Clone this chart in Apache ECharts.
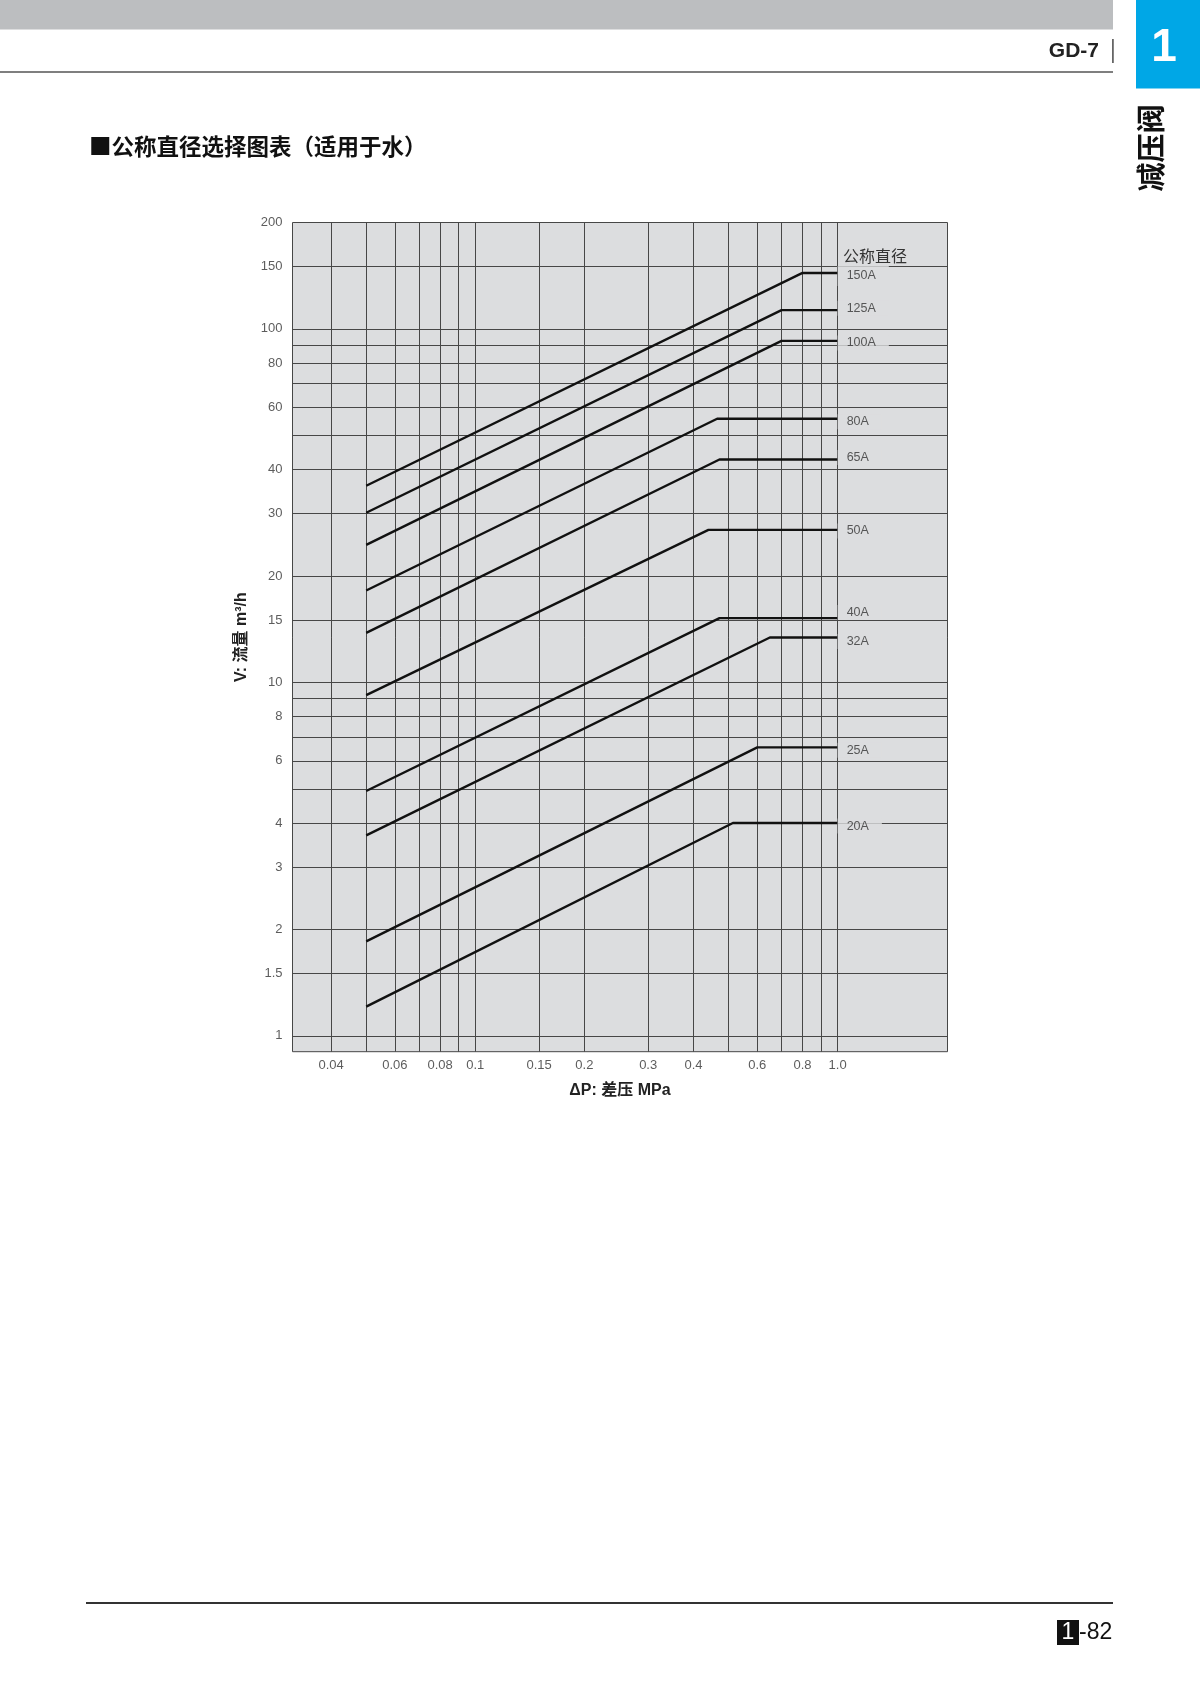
<!DOCTYPE html>
<html><head><meta charset="utf-8">
<script src="https://cdn.jsdelivr.net/npm/echarts@6/dist/echarts.min.js"></script>
<style>html,body{margin:0;padding:0;background:#fff}#c{width:1200px;height:1699px}</style>
</head><body><div id="c"></div>
<script>
// ---- data ----
const seriesNames = ['150A','125A','100A','80A','65A','50A','40A','32A','25A','20A'];
const startDp = 0.05;
const endDp = 1.0;
const startFlow = [36, 30.2, 24.5, 18.2, 13.8, 9.2, 4.93, 3.69, 1.85, 1.21];
const kneeDp = [0.8, 0.7, 0.7, 0.465, 0.472, 0.44, 0.472, 0.65, 0.6, 0.514];
const kneeFlow = [144, 113, 92.5, 55.7, 42.7, 27, 15.2, 13.4, 6.55, 4.0];
const xGridValues = [0.04,0.05,0.06,0.07,0.08,0.09,0.1,0.15,0.2,0.3,0.4,0.5,0.6,0.7,0.8,0.9,1.0];
const xTickValues = [0.04,0.06,0.08,0.1,0.15,0.2,0.3,0.4,0.6,0.8,1.0];
const xTickLabels = ['0.04','0.06','0.08','0.1','0.15','0.2','0.3','0.4','0.6','0.8','1.0'];
const yGridValues = [1,1.5,2,3,4,5,6,7,8,9,10,15,20,30,40,50,60,70,80,90,100,150];
const yTickValues = [1,1.5,2,3,4,6,8,10,15,20,30,40,60,80,100,150,200];
const yTickLabels = ['1','1.5','2','3','4','6','8','10','15','20','30','40','60','80','100','150','200'];
const xMin = 0.0313, xMax = 2.01, yMin = 0.902, yMax = 200;

// ---- styles ----
const LAT = "'Liberation Sans', Arial, 'Noto Sans CJK SC', sans-serif";
const plotBg = '#dcdddf';
const labelDy = [3, -2, 2, 3, -2, 1, -5.5, 4, 3, 3];
const labelPad = [[8,13,1,9],[3,13,1,9],[3,13,1,9],[3,13,1,9],[3,13,1,9],[3,13,1,9],[3,13,1,9],[3,13,1,9],[3,13,1,9],[3,13,1,9]];

const chart = echarts.init(document.getElementById('c'), null, {renderer: 'canvas'});

const gridLineData = xGridValues.map(v => ({xAxis: v})).concat(yGridValues.map(v => ({yAxis: v})));

const series = [];
// x tick labels + gridlines holder
series.push({
  type: 'scatter', z: 1, silent: true, clip: false, symbolSize: 0,
  data: xTickValues.map(v => [v, yMin]),
  label: {show: true, position: 'bottom', distance: 7, fontFamily: LAT, fontSize: 13, color: '#333',
    formatter: p => xTickLabels[p.dataIndex]},
  markLine: {
    silent: true, z: 1, symbol: ['none', 'none'], animation: false,
    label: {show: false},
    lineStyle: {color: '#474747', width: 1, type: 'solid'},
    emphasis: {disabled: true},
    data: gridLineData
  }
});
// y tick labels
series.push({
  type: 'scatter', z: 1, silent: true, clip: false, symbolSize: 0,
  data: yTickValues.map(v => [xMin, v]),
  label: {show: true, position: 'left', distance: 10, fontFamily: LAT, fontSize: 13, color: '#333',
    formatter: p => yTickLabels[p.dataIndex]}
});
// curves
seriesNames.forEach((name, i) => {
  series.push({
    type: 'line', name: name, z: 3, silent: true, symbol: 'none', clip: false,
    data: [[startDp, startFlow[i]], [kneeDp[i], kneeFlow[i]], [endDp, kneeFlow[i]]],
    lineStyle: {color: '#111', width: 2.4}
  });
});
// curve name labels
series.push({
  type: 'scatter', z: 4, silent: true, clip: false, symbolSize: 0,
  data: seriesNames.map((n, i) => ({value: [endDp, kneeFlow[i]],
    label: {offset: [0, labelDy[i]], padding: labelPad[i]}})),
  label: {show: true, position: 'right', distance: 0, fontFamily: LAT, fontSize: 12.5, color: '#333',
    backgroundColor: plotBg, lineHeight: 11,
    formatter: p => seriesNames[p.dataIndex]}
});

const option = {
  animation: false,
  backgroundColor: '#fff',
  grid: {left: 292.5, right: 252.5, top: 222.5, bottom: 647.3, show: true,
    backgroundColor: plotBg, borderColor: '#474747', borderWidth: 1, containLabel: false, outerBoundsMode: 'none'},
  xAxis: {
    type: 'log', min: xMin, max: xMax,
    axisLine: {show: false}, axisTick: {show: false}, axisLabel: {show: false}, splitLine: {show: false},
    name: 'ΔP: 差压 MPa', nameLocation: 'middle', nameGap: 31,
    nameTextStyle: {fontFamily: LAT, fontWeight: 'bold', fontSize: 16, color: '#222'}
  },
  yAxis: {
    type: 'log', min: yMin, max: yMax,
    axisLine: {show: false}, axisTick: {show: false}, axisLabel: {show: false}, splitLine: {show: false},
    name: 'V: 流量 m³/h', nameLocation: 'middle', nameGap: 43, nameRotate: 90,
    nameTextStyle: {fontFamily: LAT, fontWeight: 'bold', fontSize: 16, color: '#222'}
  },
  series: series,
  graphic: [
    {type: 'rect', shape: {x: 0, y: 0, width: 1113, height: 29.5}, style: {fill: '#bcbec0'}, silent: true},
    {type: 'line', shape: {x1: 0, y1: 72, x2: 1113, y2: 72}, style: {stroke: '#555', lineWidth: 1.5}, silent: true},
    {type: 'text', style: {text: 'GD-7', x: 1099, y: 51, align: 'right', verticalAlign: 'middle',
      font: "bold 21px 'Liberation Sans', Arial, sans-serif", fill: '#222'}},
    {type: 'rect', shape: {x: 1112, y: 39, width: 1.8, height: 24}, style: {fill: '#666'}},
    {type: 'rect', shape: {x: 1136, y: 0, width: 64, height: 88.5}, style: {fill: '#00a7e6'}},
    {type: 'text', style: {text: '1', x: 1164, y: 48, align: 'center', verticalAlign: 'middle',
      font: "bold 46px 'Liberation Sans', Arial, sans-serif", fill: '#fff'}},
    {type: 'text', x: 1151, y: 148, rotation: Math.PI / 2, style: {text: '减压阀', x: 0, y: 0, align: 'center', verticalAlign: 'middle',
      font: "bold 29px 'Noto Sans CJK SC', sans-serif", fill: '#111'}},
    {type: 'text', style: {text: '■公称直径选择图表（适用于水）', x: 89, y: 146, align: 'left', verticalAlign: 'middle',
      font: "bold 22.5px 'Noto Sans CJK SC', sans-serif", fill: '#111'}},
    {type: 'text', z: 10, style: {text: '公称直径', x: 843, y: 255.5, align: 'left', verticalAlign: 'middle',
      font: "16px 'Noto Sans CJK SC', sans-serif", fill: '#333'}},
    {type: 'line', shape: {x1: 86, y1: 1603, x2: 1113, y2: 1603}, style: {stroke: '#333', lineWidth: 2}, silent: true},
    {type: 'rect', shape: {x: 1057, y: 1620, width: 22, height: 25}, style: {fill: '#111'}},
    {type: 'text', style: {text: '1', x: 1068, y: 1633, align: 'center', verticalAlign: 'middle',
      font: "23px 'Liberation Sans Narrow', 'Liberation Sans', sans-serif", fill: '#fff'}},
    {type: 'text', style: {text: '-82', x: 1079, y: 1633, align: 'left', verticalAlign: 'middle',
      font: "23px 'Liberation Sans Narrow', 'Liberation Sans', sans-serif", fill: '#111'}}
  ]
};
chart.setOption(option);
</script>
</body></html>
